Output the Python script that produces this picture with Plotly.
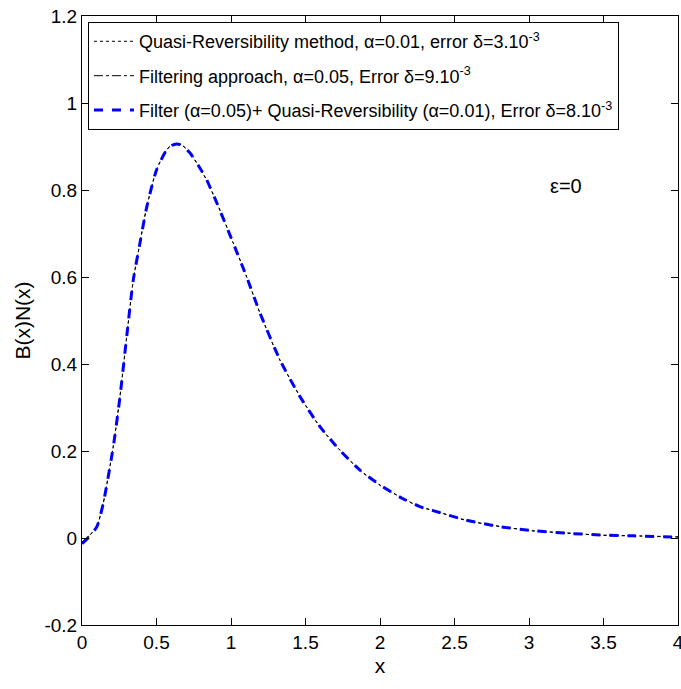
import plotly.graph_objects as go

x_vals = [0.0, 0.05, 0.1, 0.143, 0.21, 0.255, 0.30, 0.344, 0.389, 0.434, 0.50, 0.568, 0.60, 0.635,
          0.67, 0.725, 0.78, 0.837, 0.904, 1.015, 1.105, 1.195, 1.329, 1.463, 1.597, 1.73, 1.866, 2.0,
          2.134, 2.268, 2.356, 2.58, 2.805, 3.027, 3.25, 3.477, 3.70, 4.0]
y_qr = [-0.012, 0.005, 0.026, 0.08, 0.21, 0.325, 0.463, 0.593, 0.678, 0.76, 0.846, 0.892, 0.902, 0.906,
        0.903, 0.885, 0.857, 0.823, 0.772, 0.678, 0.60, 0.517, 0.409, 0.325, 0.256, 0.202, 0.156, 0.122,
        0.094, 0.072, 0.063, 0.041, 0.026, 0.017, 0.011, 0.007, 0.005, 0.002]
y_filter = [-0.010, 0.006, 0.027, 0.081, 0.211, 0.326, 0.462, 0.592, 0.679, 0.761, 0.847, 0.893, 0.903, 0.907,
            0.904, 0.886, 0.856, 0.822, 0.771, 0.679, 0.601, 0.516, 0.408, 0.326, 0.255, 0.203, 0.155, 0.121,
            0.095, 0.071, 0.064, 0.040, 0.027, 0.016, 0.012, 0.006, 0.005, 0.003]
y_comb = [-0.013, 0.004, 0.026, 0.080, 0.210, 0.325, 0.463, 0.593, 0.678, 0.760, 0.846, 0.892, 0.902, 0.906,
          0.903, 0.885, 0.857, 0.823, 0.771, 0.678, 0.600, 0.517, 0.409, 0.325, 0.256, 0.202, 0.156, 0.122,
          0.094, 0.072, 0.063, 0.041, 0.026, 0.017, 0.011, 0.007, 0.005, 0.002]

names = [
    "Quasi-Reversibility method, α=0.01, error δ=3.10<sup>-3</sup>",
    "Filtering approach, α=0.05, Error δ=9.10<sup>-3</sup>",
    "Filter (α=0.05)+ Quasi-Reversibility (α=0.01), Error δ=8.10<sup>-3</sup>",
]

x_ticks = [0, 0.5, 1, 1.5, 2, 2.5, 3, 3.5, 4]
x_ticktext = ["0", "0.5", "1", "1.5", "2", "2.5", "3", "3.5", "4"]
y_ticks = [-0.2, 0, 0.2, 0.4, 0.6, 0.8, 1.0, 1.2]
y_ticktext = ["-0.2", "0", "0.2", "0.4", "0.6", "0.8", "1", "1.2"]

fig = go.Figure()
fig.add_trace(go.Scatter(x=x_vals, y=y_qr, mode="lines", name=names[0], legendgroup="a",
                         line=dict(color="black", width=1, dash="dot", shape="spline", smoothing=0.6)))
fig.add_trace(go.Scatter(x=x_vals, y=y_filter, mode="lines", name=names[1], legendgroup="b",
                         line=dict(color="black", width=1, dash="dashdot", shape="spline", smoothing=0.6)))
fig.add_trace(go.Scatter(x=x_vals, y=y_comb, mode="lines", name=names[2], legendgroup="c",
                         line=dict(color="#0000ff", width=3, dash="dash", shape="spline", smoothing=0.6)))

font_fam = "Liberation Sans Narrow, Liberation Sans, Arial, sans-serif"

fig.add_annotation(x=3.25, y=0.81, text="ε=0", showarrow=False,
                   font=dict(family="Liberation Sans, Arial", size=20, color="black"))

fig.update_layout(
    width=681, height=689,
    margin=dict(l=82, r=3, t=16, b=64, autoexpand=False),
    paper_bgcolor="white", plot_bgcolor="white",
    font=dict(family=font_fam, color="black", size=18),
    showlegend=True,
    legend=dict(x=0.01, y=0.99, xanchor="left", yanchor="top",
                bgcolor="white", bordercolor="black", borderwidth=1,
                font=dict(family=font_fam, size=18, color="black"),
                itemwidth=40, tracegroupgap=8),
    xaxis=dict(range=[0, 4], tickvals=x_ticks, ticktext=x_ticktext,
               ticks="inside", ticklen=7, tickcolor="black", automargin=False,
               showline=True, linecolor="black", linewidth=1, mirror="ticks",
               showgrid=False, zeroline=False, ticklabeloverflow="allow",
               tickfont=dict(family=font_fam, size=19),
               title=dict(text="x", font=dict(family="Liberation Sans, Arial", size=21), standoff=6)),
    yaxis=dict(range=[-0.2, 1.2], tickvals=y_ticks, ticktext=y_ticktext,
               ticks="inside", ticklen=7, tickcolor="black", automargin=False,
               showline=True, linecolor="black", linewidth=1, mirror="ticks",
               showgrid=False, zeroline=False,
               tickfont=dict(family="Liberation Sans, Arial", size=19),
               title=dict(text="B(x)N(x)", font=dict(family="Liberation Sans, Arial", size=21), standoff=8)),
)

fig.write_html("out.html")
